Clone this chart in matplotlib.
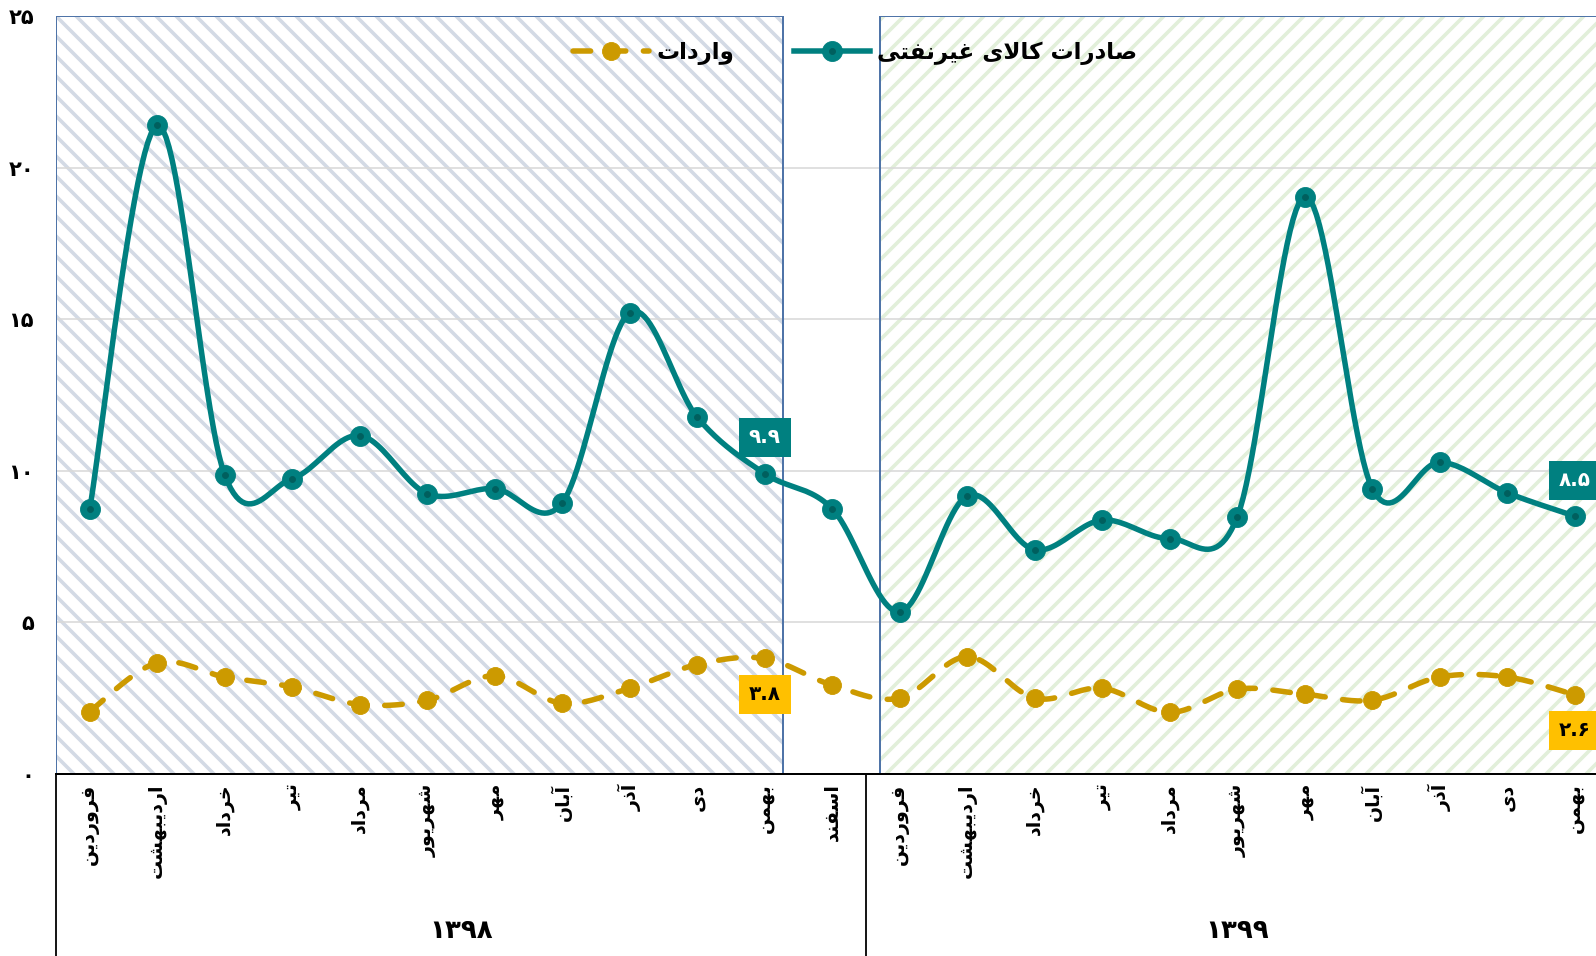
# -*- coding: utf-8 -*-
# non-oil exports vs imports, monthly, 1398-1399
import numpy as np
import matplotlib
matplotlib.use('Agg')
import matplotlib.pyplot as plt
from matplotlib.lines import Line2D

# ---- data ----
months = ['فروردین', 'اردیبهشت', 'خرداد', 'تیر', 'مرداد', 'شهریور',
          'مهر', 'آبان', 'آذر', 'دی', 'بهمن', 'اسفند']
years = ['۱۳۹۸', '۱۳۹۹']
n98 = 12
n99 = 11
exports = [8.74, 21.4, 9.85, 9.74, 11.16, 9.24, 9.41, 8.94, 15.22, 11.76, 9.9, 8.74,
           5.34, 9.17, 7.39, 8.37, 7.76, 8.47, 19.05, 9.41, 10.28, 9.27, 8.5]
imports = [2.05, 3.66, 3.19, 2.86, 2.28, 2.42, 3.23, 2.32, 2.82, 3.6, 3.8, 2.92,
           2.49, 3.86, 2.49, 2.82, 2.02, 2.79, 2.62, 2.42, 3.19, 3.19, 2.6]
yticks = [0, 5, 10, 15, 20, 25]
label_exp = 'صادرات کالای غیرنفتی'
label_imp = 'واردات'
labeled = [10, 22]   # points that carry a value box

teal = '#008080'
teal_dark = '#005F5E'
gold = '#CC9A00'
gold_box = '#FFC000'

# ---- small persian shaper (matplotlib has no arabic shaping) ----
FORMS = {
    'ا': ('\uFE8D', '\uFE8E', None, None),
    'آ': ('\uFE81', '\uFE82', None, None),
    'ب': ('\uFE8F', '\uFE90', '\uFE91', '\uFE92'),
    'ت': ('\uFE95', '\uFE96', '\uFE97', '\uFE98'),
    'خ': ('\uFEA5', '\uFEA6', '\uFEA7', '\uFEA8'),
    'د': ('\uFEA9', '\uFEAA', None, None),
    'ذ': ('\uFEAB', '\uFEAC', None, None),
    'ر': ('\uFEAD', '\uFEAE', None, None),
    'ز': ('\uFEAF', '\uFEB0', None, None),
    'س': ('\uFEB1', '\uFEB2', '\uFEB3', '\uFEB4'),
    'ش': ('\uFEB5', '\uFEB6', '\uFEB7', '\uFEB8'),
    'ص': ('\uFEB9', '\uFEBA', '\uFEBB', '\uFEBC'),
    'غ': ('\uFECD', '\uFECE', '\uFECF', '\uFED0'),
    'ف': ('\uFED1', '\uFED2', '\uFED3', '\uFED4'),
    'ک': ('\uFED9', '\uFEDA', '\uFEDB', '\uFEDC'),
    'ل': ('\uFEDD', '\uFEDE', '\uFEDF', '\uFEE0'),
    'م': ('\uFEE1', '\uFEE2', '\uFEE3', '\uFEE4'),
    'ن': ('\uFEE5', '\uFEE6', '\uFEE7', '\uFEE8'),
    'ه': ('\uFEE9', '\uFEEA', '\uFEEB', '\uFEEC'),
    'و': ('\uFEED', '\uFEEE', None, None),
    'ی': ('\uFEEF', '\uFEF0', '\uFEF3', '\uFEF4'),
}
FORMS['ي'] = FORMS['ی']
FORMS['ك'] = FORMS['ک']


def fa(text):
    out = []
    joined = False
    i = 0
    while i < len(text):
        c = text[i]
        if c == 'ل' and i + 1 < len(text) and text[i + 1] == 'ا':
            out.append('\uFEFC' if joined else '\uFEFB')
            joined = False
            i += 2
            continue
        f = FORMS.get(c)
        if f is None:
            out.append(c)
            joined = False
            i += 1
            continue
        nxt = text[i + 1] if i + 1 < len(text) else ''
        can_next = f[2] is not None and nxt in FORMS
        if joined and can_next:
            g = f[3]
        elif joined:
            g = f[1]
        elif can_next:
            g = f[2]
        else:
            g = f[0]
        out.append(g)
        joined = can_next
        i += 1
    return ''.join(out)[::-1]


def fanum(v):
    return str(v).translate(str.maketrans('0123456789', '۰۱۲۳۴۵۶۷۸۹'))


def smooth(y, n=24):
    # excel-like smoothed line (catmull-rom as cubic bezier)
    p = np.column_stack([np.arange(len(y)), y]).astype(float)
    xs, ys = [], []
    t = np.linspace(0, 1, n)[:, None]
    for i in range(len(p) - 1):
        p0 = p[max(i - 1, 0)]
        p3 = p[min(i + 2, len(p) - 1)]
        c1 = p[i] + (p[i + 1] - p0) / 6
        c2 = p[i + 1] - (p3 - p[i]) / 6
        b = ((1 - t) ** 3) * p[i] + 3 * ((1 - t) ** 2) * t * c1 \
            + 3 * (1 - t) * t ** 2 * c2 + t ** 3 * p[i + 1]
        xs.extend(b[:, 0])
        ys.extend(b[:, 1])
    return np.array(xs), np.array(ys)


# dpi picked so the hatch stripes come out as fine as in the original
DPI = 60


def pt(px):
    # pixel size -> points at this dpi
    return px * 72.0 / DPI


plt.rcParams['font.family'] = 'DejaVu Sans'
plt.rcParams['hatch.linewidth'] = pt(3.6)

fig = plt.figure(figsize=(1596 / DPI, 956 / DPI), dpi=DPI)
ax = fig.add_axes([56 / 1596, 182.4 / 956, 1552.5 / 1596, 757.3 / 956])
x = np.arange(n98 + n99)
ax.set_xlim(-0.5, len(x) - 0.5)
ax.set_ylim(0, 25)

# shaded year blocks
ax.axvspan(-0.5, 10.27, facecolor='white', edgecolor='#D3DAE5', hatch='\\', lw=0, zorder=0)
ax.axvspan(-0.5, 10.27, fill=False, edgecolor='#4F74A8', lw=pt(2), zorder=3)
ax.axvspan(11.70, len(x) - 0.5, facecolor='white', edgecolor='#E2EFDA', hatch='/', lw=0, zorder=0)
ax.axvspan(11.70, len(x) - 0.5, fill=False, edgecolor='#4F74A8', lw=pt(2), zorder=3)

for v in yticks[1:-1]:
    ax.axhline(v, color='#D9D9D9', lw=pt(1.6), zorder=2)

# lines
xs, ys = smooth(exports)
ax.plot(xs, ys, color=teal, lw=pt(5.5), solid_capstyle='round', zorder=5)
ax.plot(x, exports, 'o', ms=pt(20), color=teal, zorder=6)
ax.plot(x, exports, 'o', ms=pt(6), color=teal_dark, zorder=7)

xs, ys = smooth(imports)
ax.plot(xs, ys, color=gold, lw=pt(5.5), dashes=(3.2, 3.2), dash_capstyle='round', zorder=5)
ax.plot(x, imports, 'o', ms=pt(18), color=gold, zorder=6)

# value boxes
for i in labeled:
    ax.annotate(fanum(exports[i]), (x[i], exports[i]), xytext=(0, 36), textcoords='offset pixels',
                ha='center', va='center', color='white', fontsize=pt(20), fontweight='bold',
                bbox=dict(boxstyle='square,pad=0.5', fc=teal, ec='none'), zorder=8)
    ax.annotate(fanum(imports[i]), (x[i], imports[i]), xytext=(0, -36), textcoords='offset pixels',
                ha='center', va='center', color='black', fontsize=pt(20), fontweight='bold',
                bbox=dict(boxstyle='square,pad=0.5', fc=gold_box, ec='none'), zorder=8)

# axes
for s in ['left', 'right', 'top']:
    ax.spines[s].set_visible(False)
ax.spines['bottom'].set_color('black')
ax.spines['bottom'].set_linewidth(pt(2))
ax.spines['bottom'].set_zorder(9)

ax.set_yticks(yticks, labels=[fanum(v) for v in yticks])
ax.tick_params(axis='y', length=0, pad=pt(22), labelsize=pt(21))
for t in ax.get_yticklabels():
    t.set_fontweight('bold')

ax.set_xticks(x, labels=[fa(m) for m in months + months[:n99]], rotation=90)
ax.tick_params(axis='x', length=0, pad=pt(10), labelsize=pt(19))
for t in ax.get_xticklabels():
    t.set_fontweight('bold')

# year groups under the months
tr = ax.get_xaxis_transform()
for xv in [-0.5, n98 - 0.5]:
    ax.plot([xv, xv], [0, -0.3], color='black', lw=pt(1.8), transform=tr, clip_on=False)
ax.text((n98 - 1) / 2, -0.208, years[0], transform=tr, ha='center', va='center',
        fontsize=pt(26), fontweight='bold')
ax.text(n98 + (n99 - 1) / 2, -0.208, years[1], transform=tr, ha='center', va='center',
        fontsize=pt(26), fontweight='bold')

# legend
h_imp = Line2D([], [], color=gold, lw=pt(5.5), dashes=(3.2, 3.2), dash_capstyle='round',
               marker='o', ms=pt(18))
h_exp = (Line2D([], [], color=teal, lw=pt(5.5), marker='o', ms=pt(20)),
         Line2D([], [], ls='none', marker='o', ms=pt(6), color=teal_dark))
ax.legend([h_imp, h_exp], [fa(label_imp), fa(label_exp)], ncol=2, loc='center',
          bbox_to_anchor=(855 / 1596, 1 - 53 / 956), bbox_transform=fig.transFigure,
          frameon=False, prop={'weight': 'bold', 'size': pt(23)}, handlelength=3.3,
          columnspacing=2.6, handletextpad=0.3, numpoints=1)

fig.savefig('out.png', dpi=DPI)
